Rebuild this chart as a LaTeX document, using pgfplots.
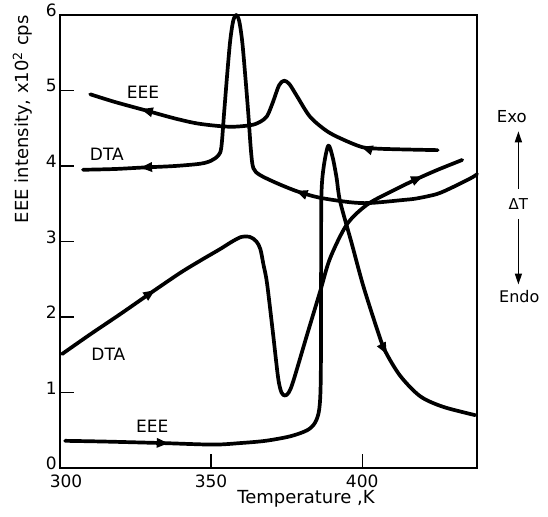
\documentclass[border=0pt]{standalone}
\usepackage{pgfplots}
\pgfplotsset{compat=1.18}
\usepackage{fontspec}
\setmainfont{DejaVu Sans}
\usetikzlibrary{arrows.meta,decorations.markings}
\tikzset{
  arr/.style 2 args={postaction={decorate},decoration={markings,
    mark=at position #1 with {\arrow{Triangle[length=12pt,width=9pt]}},
    mark=at position #2 with {\arrow{Triangle[length=12pt,width=9pt]}}}},
  curve/.style={black, line width=3.7pt, smooth, tension=0.5, line join=round, line cap=round},
}
\begin{document}
\begin{tikzpicture}
\begin{axis}[name=ax, scale only axis, width=417pt, height=453pt,
  xmin=300, xmax=438, ymin=0, ymax=6,
  xtick={300,350,400}, xticklabels={\hspace*{12pt}300,350,400},
  ytick={0,1,2,3,4,5,6},
  tick pos=left, tick align=inside, major tick length=14pt,
  axis line style={line width=1.4pt},
  every tick/.style={line width=1.3pt, black},
  tick label style={font=\fontsize{17}{20}\selectfont},
  xticklabel style={yshift=-7.5pt, inner sep=0pt, text height=12pt, text depth=0pt},
  yticklabel style={inner sep=1pt, xshift=-2pt, yshift=4.5pt, text height=12pt, text depth=0pt},
  /pgf/number format/assume math mode=true,
  xlabel={Temperature ,K},
  ylabel={EEE intensity, x10\textsuperscript{2} cps},
  xlabel style={font=\fontsize{18}{21}\selectfont, at={(axis description cs:0.59,0)}, anchor=center, yshift=-31pt},
  ylabel style={font=\fontsize{18}{21}\selectfont, at={(axis description cs:-0.09,0.77)}, anchor=center},
  clip=false,
]
% EEE cooling (decreasing T)
\addplot[curve, arr={0.19}{0.87}] coordinates {
(425,4.21) (413,4.22) (405,4.23) (400,4.25) (393.7,4.35) (388.4,4.46) (382.8,4.65)
(378.5,4.92) (376,5.08) (374.2,5.13) (372.5,5.07) (370.5,4.85) (368.5,4.66) (366,4.58)
(363,4.54) (356,4.52) (346,4.56) (338,4.63) (328,4.74) (318,4.85) (310,4.95)};
% DTA cooling (decreasing T)
\addplot[curve, arr={0.28}{0.915}] coordinates {
(438,3.89) (436,3.84) (430,3.72) (424.8,3.63) (418,3.57) (413.6,3.55) (402.6,3.51)
(396,3.52) (386,3.58) (378.8,3.66) (371.9,3.77) (366.2,3.88) (364,3.97) (363.2,4.2)
(362.3,4.7) (361.3,5.2) (360.3,5.65) (359.3,5.92) (358.3,6.0) (357.3,5.92) (356.3,5.65)
(355.3,5.2) (354.3,4.7) (353.4,4.25) (352.4,4.14) (350,4.07) (346.4,4.03) (338,4.0)
(327.5,3.98) (318,3.96) (307.6,3.95)};
% DTA heating (increasing T)
\addplot[curve, arr={0.16}{0.94}] coordinates {
(300.7,1.51) (310,1.77) (320,2.04) (330.8,2.34) (340,2.59) (347,2.76) (353,2.90)
(357,3.0) (360,3.06) (362.9,3.06) (365,3.0) (366.3,2.9) (367.3,2.7) (368.5,2.45)
(370.5,1.78) (372.2,1.19) (373.3,1.0) (374.5,0.96) (375.7,1.0) (377.2,1.15) (381.8,1.77)
(386.1,2.34) (389.4,2.78) (395,3.23) (401.7,3.49) (410,3.67) (418.2,3.83) (425,3.95)
(433.1,4.08)};
% EEE heating (increasing T)
\addplot[curve, arr={0.12}{0.87}] coordinates {
(301.7,0.36) (315,0.35) (334,0.33) (350.7,0.31) (359.6,0.33) (368,0.36) (376.2,0.42)
(381.8,0.50) (384.4,0.6) (385.8,0.78) (386.3,1.2) (386.4,2.5) (386.5,3.6) (387.3,4.0)
(388.8,4.27) (390.2,4.12) (391.5,3.85) (392.7,3.53) (396.5,2.98) (400.3,2.42) (405,1.83)
(407.6,1.55) (412.6,1.22) (419.2,0.95) (426.8,0.81) (437.4,0.7)};
% curve labels
\node[font=\fontsize{17}{20}\selectfont] at (axis cs:327.5,4.98) {EEE};
\node[font=\fontsize{17}{20}\selectfont] at (axis cs:315.5,4.16) {DTA};
\node[font=\fontsize{17}{20}\selectfont] at (axis cs:316,1.5) {DTA};
\node[font=\fontsize{17}{20}\selectfont] at (axis cs:330.5,0.55) {EEE};
% Exo / Endo annotation
\node[font=\fontsize{16.5}{19}\selectfont] at (axis cs:449.5,4.66) {Exo};
\draw[line width=1.4pt,-{Triangle[length=11pt,width=7pt]}] (axis cs:451.7,3.70) -- (axis cs:451.7,4.46);
\node[font=\fontsize{15}{18}\selectfont] at (axis cs:451.7,3.50) {ΔT};
\draw[line width=1.4pt,-{Triangle[length=11pt,width=7pt]}] (axis cs:451.7,3.30) -- (axis cs:451.7,2.43);
\node[font=\fontsize{16}{19}\selectfont] at (axis cs:452,2.27) {Endo};
\end{axis}
\pgfresetboundingbox
\path[use as bounding box] ([shift={(-60pt,-48pt)}]ax.south west) rectangle ([shift={(71pt,15pt)}]ax.north east);
\end{tikzpicture}
\end{document}
